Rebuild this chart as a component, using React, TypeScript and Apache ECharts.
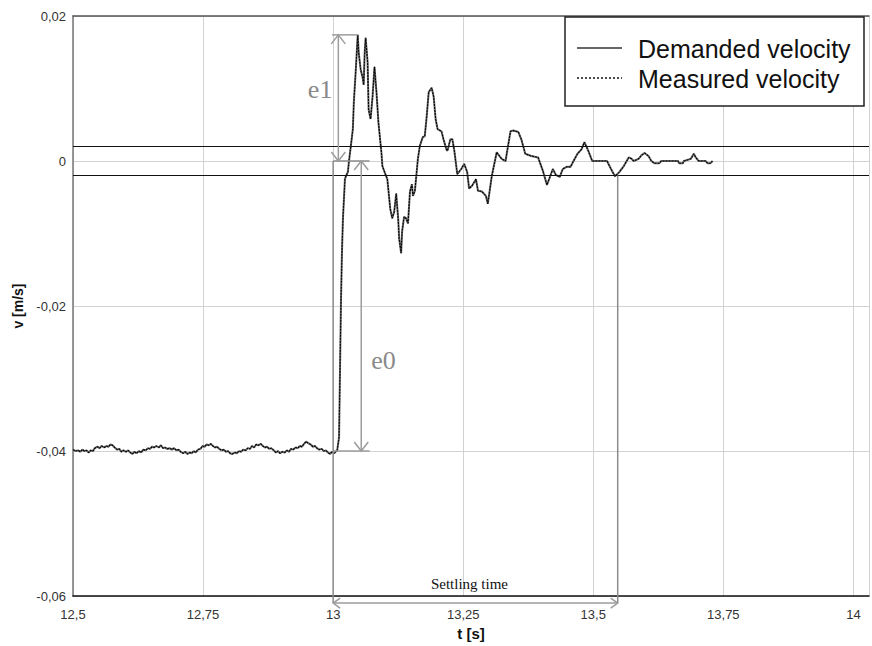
import React, { useEffect, useRef } from "react";
import * as echarts from "echarts";

// ---- data ----
const preStepTime = [
  12.5, 12.505, 12.51, 12.514, 12.518, 12.522, 12.526, 12.53, 12.534, 12.538, 12.542, 12.547, 12.551, 12.555, 12.56,
  12.564, 12.568, 12.572, 12.576, 12.58, 12.585, 12.589, 12.593, 12.597, 12.602, 12.606, 12.61, 12.614, 12.618, 12.622,
  12.627, 12.631, 12.635, 12.64, 12.644, 12.648, 12.652, 12.656, 12.66, 12.665, 12.669, 12.673, 12.677, 12.681, 12.686,
  12.69, 12.694, 12.699, 12.703, 12.707, 12.712, 12.716, 12.72, 12.724, 12.728, 12.732, 12.736, 12.74, 12.745, 12.749,
  12.753, 12.757, 12.761, 12.765, 12.769, 12.773, 12.777, 12.781, 12.786, 12.79, 12.794, 12.798, 12.802, 12.806, 12.811,
  12.815, 12.819, 12.823, 12.827, 12.832, 12.836, 12.84, 12.844, 12.848, 12.852, 12.856, 12.861, 12.865, 12.869, 12.873,
  12.877, 12.881, 12.886, 12.89, 12.894, 12.898, 12.902, 12.907, 12.911, 12.915, 12.919, 12.923, 12.928, 12.932, 12.936,
  12.94, 12.944, 12.948, 12.952, 12.957, 12.961, 12.965, 12.969, 12.973, 12.978, 12.982, 12.986, 12.99, 12.994, 12.998,
  13.002, 13.006,
];
const preStepVelocity = [
  -0.0398, -0.04, -0.0399, -0.0401, -0.0398, -0.04, -0.0399, -0.0402, -0.0399, -0.04, -0.0396, -0.0394, -0.0396, -0.0393, -0.0395,
  -0.0393, -0.0394, -0.0391, -0.0392, -0.0395, -0.0398, -0.0397, -0.0401, -0.0399, -0.0401, -0.0399, -0.0402, -0.0404, -0.0401, -0.0403,
  -0.04, -0.0402, -0.0398, -0.0399, -0.0396, -0.0397, -0.0394, -0.0395, -0.0393, -0.0395, -0.0392, -0.0396, -0.0395, -0.0397, -0.0396,
  -0.0398, -0.0396, -0.0399, -0.0398, -0.0401, -0.0403, -0.0401, -0.0404, -0.0402, -0.0403, -0.04, -0.0402, -0.0398, -0.0397, -0.0393,
  -0.0394, -0.0391, -0.0392, -0.039, -0.0393, -0.0395, -0.0394, -0.0397, -0.0399, -0.0398, -0.0401, -0.04, -0.0403, -0.0404, -0.0402,
  -0.0403, -0.04, -0.0401, -0.0398, -0.0399, -0.0396, -0.0397, -0.0393, -0.0395, -0.0391, -0.0392, -0.039, -0.0393, -0.0395, -0.0394,
  -0.0397, -0.0396, -0.0399, -0.0402, -0.04, -0.0403, -0.0401, -0.0402, -0.0399, -0.0401, -0.0397, -0.0398, -0.0395, -0.0396, -0.0393,
  -0.0394, -0.039, -0.0387, -0.0389, -0.0391, -0.0394, -0.0393, -0.0396, -0.0398, -0.0397, -0.04, -0.0399, -0.0402, -0.0404, -0.0401,
  -0.0403, -0.04,
];
const responseTime = [
  13.0076, 13.0114, 13.0133, 13.0152, 13.017, 13.0189, 13.0227, 13.0246, 13.0284, 13.0303, 13.0341, 13.0379, 13.0398, 13.0436,
  13.0473, 13.0492, 13.053, 13.0568, 13.0587, 13.0606, 13.0625, 13.0663, 13.0682, 13.072, 13.0758, 13.0795, 13.0833, 13.0871,
  13.0928, 13.0947, 13.1004, 13.1042, 13.1098, 13.1136, 13.1174, 13.1212, 13.125, 13.1269, 13.1307, 13.1326, 13.1364, 13.1402,
  13.1439, 13.1477, 13.1515, 13.1534, 13.1572, 13.1629, 13.1667, 13.1723, 13.1761, 13.1799, 13.1837, 13.1894, 13.1932, 13.197,
  13.2008, 13.2083, 13.2121, 13.2178, 13.2197, 13.2254, 13.2292, 13.233, 13.2386, 13.2462, 13.2519, 13.2576, 13.2614, 13.267,
  13.2746, 13.2784, 13.286, 13.2936, 13.2973, 13.3011, 13.3049, 13.3144, 13.3239, 13.3314, 13.3409, 13.3466, 13.3561, 13.3617,
  13.3693, 13.3807, 13.3939, 13.4034, 13.411, 13.4167, 13.4223, 13.428, 13.4356, 13.4413, 13.4489, 13.4564, 13.4621, 13.4697,
  13.4773, 13.483, 13.4905, 13.4981, 13.5076, 13.517, 13.5265, 13.5341, 13.5417, 13.5492, 13.5587, 13.5682, 13.5739, 13.5777,
  13.5871, 13.5928, 13.5985, 13.6061, 13.6117, 13.6174, 13.6269, 13.6307, 13.6458, 13.6629, 13.6648, 13.6723, 13.6742, 13.6875,
  13.6932, 13.697, 13.7027, 13.7159, 13.7197, 13.7254, 13.7292,
];
const responseVelocity = [
  -0.04, -0.0381, -0.0285, -0.0189, -0.0125, -0.0079, -0.0025, -0.0021, -0.0015, -0.0001, 0.0021, 0.0044, 0.0081, 0.0126,
  0.0174, 0.0149, 0.0126, 0.0115, 0.0105, 0.0149, 0.017, 0.0136, 0.0071, 0.0058, 0.0089, 0.013, 0.0095, 0.0053,
  0.0012, -0.0007, -0.0018, -0.0025, -0.0066, -0.0079, -0.007, -0.0045, -0.0079, -0.0107, -0.0127, -0.0097, -0.0077, -0.0079,
  -0.0086, -0.0042, -0.0032, -0.0048, -0.0041, 0.0003, 0.0021, 0.0033, 0.0034, 0.0062, 0.0095, 0.0101, 0.0089, 0.0058,
  0.0044, 0.0041, 0.003, 0.0016, 0.0014, 0.003, 0.003, 0.0014, -0.0018, -0.0011, -0.0004, -0.0015, -0.0038, -0.0034,
  -0.0025, -0.0041, -0.0042, -0.0048, -0.0059, -0.004, -0.0021, 0.0012, 0.0003, 0.0, 0.0041, 0.0042, 0.004, 0.003,
  0.001, 0.0007, 0.0005, -0.0014, -0.0033, -0.0022, -0.0011, -0.0019, -0.0022, -0.0011, -0.0008, -0.0008, 0.0, 0.001,
  0.0016, 0.0026, 0.0014, 0.0, 0.0, 0.0, 0.0, -0.0011, -0.0021, -0.0016, -0.0007, 0.0005, 0.0003, 0.0,
  0.0003, 0.0008, 0.0011, 0.0007, 0.0, -0.0003, -0.0003, 0.0, 0.0, 0.0, -0.0003, -0.0003, 0.0, 0.0003,
  0.001, 0.0005, 0.0, 0.0, -0.0003, -0.0003, 0.0,
];
const bandLimits = [0.002, -0.002];
const xTicks = { min: 12.5, max: 14.03, interval: 0.25 };
const yTicks = { min: -0.06, max: 0.02, interval: 0.02 };
// annotation values
const stepTime = 13.0;
const peakValue = 0.0174;
const peakTime = 13.047;
const initialValue = -0.04;
const e1Time = 13.01;
const e0Time = 13.054;
const settlingEnd = 13.547;
const seriesNames = ["Demanded velocity", "Measured velocity"];
const xName = "t [s]";
const yName = "v [m/s]";

const SANS = "'Liberation Sans', Arial, sans-serif";
const SERIF = "'Liberation Serif', 'Times New Roman', serif";

const fmtNum = (v: number) => {
  const r = Math.round(v * 10000) / 10000;
  if (Math.abs(r) < 1e-9) return "0";
  return String(r).replace(".", ",");
};

export default function App() {
  const ref = useRef<HTMLDivElement>(null);
  useEffect(() => {
    const chart = echarts.init(ref.current!, null, { renderer: "svg" });
    const allVelocity = [...preStepVelocity, ...responseVelocity];
    const points = [...preStepTime, ...responseTime].map((t, i) => [t, allVelocity[i]]);
    chart.setOption({
      animation: false,
      backgroundColor: "#ffffff",
      grid: { left: 73, right: -8, top: 16, bottom: 46, containLabel: false },
      xAxis: [
        {
          type: "value",
          min: xTicks.min,
          max: xTicks.max,
          interval: xTicks.interval,
          name: xName,
          nameLocation: "middle",
          nameGap: 27,
          nameTextStyle: { fontFamily: SANS, fontWeight: "bold", fontSize: 15, color: "#111" },
          axisLine: { show: true, onZero: false, lineStyle: { color: "#111", width: 1.5 } },
          axisTick: { show: false },
          axisLabel: {
            margin: 12,
            fontFamily: SANS,
            fontSize: 13,
            color: "#333",
            formatter: (v: number) =>
              Math.abs(v * 4 - Math.round(v * 4)) > 1e-6 ? "" : fmtNum(v),
          },
          splitLine: { show: true, lineStyle: { color: "#d2d2d2", width: 1 } },
        },
        {
          type: "value",
          position: "top",
          min: xTicks.min,
          max: xTicks.max,
          axisLine: { show: true, onZero: false, lineStyle: { color: "#555", width: 1.5 } },
          axisTick: { show: false },
          axisLabel: { show: false },
          splitLine: { show: false },
        },
      ],
      yAxis: {
        type: "value",
        min: yTicks.min,
        max: yTicks.max,
        interval: yTicks.interval,
        name: yName,
        nameLocation: "middle",
        nameRotate: 90,
        nameGap: 47,
        nameTextStyle: { fontFamily: SANS, fontWeight: "bold", fontSize: 14, color: "#111" },
        axisLine: { show: true, onZero: false, lineStyle: { color: "#777", width: 1.5 } },
        axisTick: { show: false },
        axisLabel: { margin: 7, fontFamily: SANS, fontSize: 13, color: "#333", formatter: fmtNum },
        splitLine: { show: true, lineStyle: { color: "#d2d2d2", width: 1 } },
      },
      series: [
        {
          name: seriesNames[0],
          type: "line",
          data: points,
          showSymbol: false,
          symbol: "none",
          lineStyle: { color: "#6a6a6a", width: 2 },
          z: 3,
          markLine: {
            silent: true,
            precision: 4,
            symbol: ["none", "none"],
            label: { show: false },
            lineStyle: { color: "#111", width: 1.2, type: "solid" },
            data: bandLimits.map((b) => ({ yAxis: b })),
          },
        },
        {
          name: seriesNames[1],
          type: "line",
          data: points,
          showSymbol: false,
          symbol: "none",
          lineStyle: { color: "#000", width: 1.1, type: [2, 1] },
          z: 4,
        },
      ],
    });

    const P = (t: number, v: number) => chart.convertToPixel({ seriesIndex: 0 }, [t, v]) as number[];
    const gray = "#9c9c9c";
    const lw = 1.5;
    const line = (a: number[], b: number[], color = gray, w = lw) => ({
      type: "line",
      silent: true,
      z: 50,
      shape: { x1: a[0], y1: a[1], x2: b[0], y2: b[1] },
      style: { stroke: color, lineWidth: w },
    });
    // open V arrowhead with tip at p, pointing in direction d (unit)
    const head = (p: number[], d: number[], L = 9, W = 7) => ({
      type: "polyline",
      silent: true,
      z: 50,
      shape: {
        points: [
          [p[0] - d[0] * L - d[1] * W, p[1] - d[1] * L + d[0] * W],
          [p[0], p[1]],
          [p[0] - d[0] * L + d[1] * W, p[1] - d[1] * L - d[0] * W],
        ],
      },
      style: { stroke: gray, lineWidth: lw, fill: "none" },
    });

    const bottomY = P(stepTime, yTicks.min)[1] + 7;
    const e1Top = P(e1Time, peakValue);
    const e1Bot = P(e1Time, 0);
    const e0Top = P(e0Time, 0);
    const e0Bot = P(e0Time, initialValue);
    const sStartX = P(stepTime, 0)[0];
    const sEndX = P(settlingEnd, 0)[0];
    const sEndTopY = P(settlingEnd, bandLimits[1])[1];

    const legendX = 565;
    const legendY = 17;
    const graphic: any[] = [
      line(P(stepTime - 0.002, peakValue), P(peakTime, peakValue)),
      line(P(stepTime, 0), P(e0Time + 0.016, 0), "#8c8c8c"),
      line(P(stepTime, initialValue), P(e0Time + 0.016, initialValue)),
      line([sStartX, P(stepTime, 0)[1]], [sStartX, bottomY], "#8c8c8c"),
      line([sEndX, sEndTopY], [sEndX, bottomY], "#8c8c8c"),
      line(e1Top, e1Bot),
      head(e1Top, [0, -1]),
      head(e1Bot, [0, 1]),
      line(e0Top, e0Bot),
      head(e0Top, [0, -1]),
      head(e0Bot, [0, 1]),
      line([sStartX, bottomY], [sEndX, bottomY]),
      head([sStartX, bottomY], [-1, 0], 7, 5),
      head([sEndX, bottomY], [1, 0], 7, 5),
      {
        type: "text",
        silent: true,
        z: 51,
        x: P(12.975, 0)[0],
        y: P(12.975, 0.0098)[1],
        style: { text: "e1", font: `26px ${SERIF}`, fill: "#8a8a8a", align: "center", verticalAlign: "middle" },
      },
      {
        type: "text",
        silent: true,
        z: 51,
        x: P(13.097, 0)[0],
        y: P(13.097, -0.0275)[1],
        style: { text: "e0", font: `26px ${SERIF}`, fill: "#8a8a8a", align: "center", verticalAlign: "middle" },
      },
      {
        type: "text",
        silent: true,
        z: 51,
        x: P(13.262, 0)[0],
        y: bottomY - 19,
        style: { text: "Settling time", font: `15px ${SERIF}`, fill: "#111", align: "center", verticalAlign: "middle" },
      },
      {
        type: "group",
        z: 60,
        children: [
          {
            type: "rect",
            z: 60,
            shape: { x: legendX, y: legendY, width: 299, height: 89 },
            style: { fill: "#fff", stroke: "#222", lineWidth: 1.5 },
          },
          {
            type: "line",
            z: 61,
            shape: { x1: legendX + 12, y1: legendY + 31, x2: legendX + 57, y2: legendY + 31 },
            style: { stroke: "#666", lineWidth: 2 },
          },
          {
            type: "text",
            z: 61,
            x: legendX + 73,
            y: legendY + 32,
            style: { text: seriesNames[0], font: `25px ${SANS}`, fill: "#111", verticalAlign: "middle" },
          },
          {
            type: "line",
            z: 61,
            shape: { x1: legendX + 12, y1: legendY + 61, x2: legendX + 57, y2: legendY + 61 },
            style: { stroke: "#111", lineWidth: 1.5, lineDash: [2, 2] },
          },
          {
            type: "text",
            z: 61,
            x: legendX + 73,
            y: legendY + 62,
            style: { text: seriesNames[1], font: `25px ${SANS}`, fill: "#111", verticalAlign: "middle" },
          },
        ],
      },
    ];
    chart.setOption({ graphic });
    return () => chart.dispose();
  }, []);
  return (
    <div
      ref={ref}
      style={{ position: "fixed", left: 0, top: 0, width: 872, height: 646, background: "#fff" }}
    />
  );
}
